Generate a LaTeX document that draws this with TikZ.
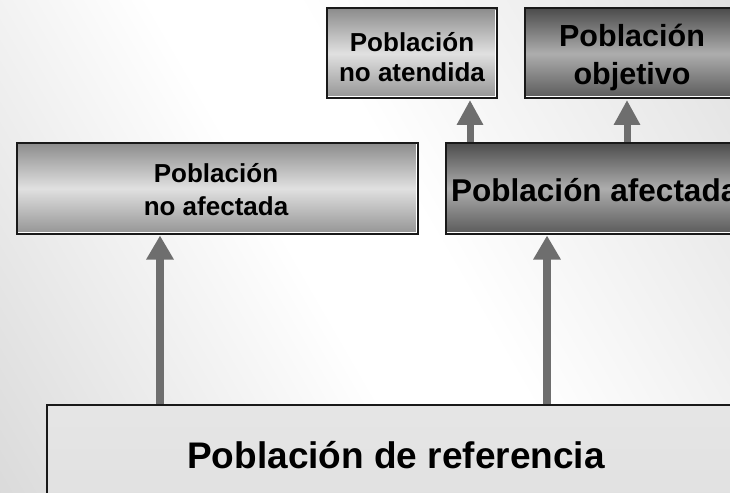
\documentclass[tikz,border=0pt]{standalone}
\usepackage{fontspec}
\setmainfont{Liberation Sans}
\usetikzlibrary{arrows.meta}
\definecolor{arrowgray}{HTML}{6E6E6E}
\pgfdeclareverticalshading{bgshade}{100bp}{color(0bp)=(black!22); color(45bp)=(white); color(55bp)=(white); color(100bp)=(black!18)}
\tikzset{
  box/.style={rectangle, draw=black!90, line width=2bp, inner sep=0pt, align=center,
    font=\bfseries, text=black!92},
  lightbox/.style={box, top color=black!45, bottom color=black!42, middle color=black!12},
  darkbox/.style={box, top color=black!70, bottom color=black!65, middle color=black!32},
  refbox/.style={box, top color=black!10, bottom color=black!12, middle color=black!11},
  upar/.style={draw=arrowgray, line width=8bp, -{Triangle[length=24bp,width=26bp]}, shorten >=0.5bp},
}
\newcommand{\hilite}[1]{\draw[white, line width=1.2bp] ([xshift=2.4bp,yshift=2.6bp]#1.south west) -- ([xshift=-2.6bp,yshift=2.6bp]#1.south east) -- ([xshift=-2.6bp,yshift=-2.4bp]#1.north east);}
\begin{document}
\begin{tikzpicture}[x=1bp,y=-1bp]
\clip (0,0) rectangle (730,493);
\shade[shading=bgshade, shading angle=-60] (0,0) rectangle (730,493);
% boxes
\node[lightbox, minimum width=170bp, minimum height=90bp] (natend) at (412,53.5) {};
\node[darkbox, minimum width=215bp, minimum height=90bp] (obj) at (632.5,53.5) {};
\node[lightbox, minimum width=401bp, minimum height=91bp] (nafect) at (217.5,188.5) {};
\node[darkbox, minimum width=300bp, minimum height=91bp] (afect) at (596,188.5) {};
\node[refbox, minimum width=700bp, minimum height=110bp] (ref) at (397,460) {};
\hilite{natend}\hilite{obj}\hilite{nafect}\hilite{afect}
% texts
\node[font=\bfseries\fontsize{26bp}{30bp}\selectfont, align=center, inner sep=0pt] (tnatend) at (412,57) {Población\\no atendida};
\node[font=\bfseries\fontsize{30.5bp}{38bp}\selectfont, align=center, inner sep=0pt] (tobj) at (632,57) {Población\\objetivo};
\node[font=\bfseries\fontsize{26bp}{33bp}\selectfont, align=center, inner sep=0pt] (tnafect) at (216,189.5) {Población\\no afectada};
\node[font=\bfseries\fontsize{31.5bp}{36bp}\selectfont, anchor=west, inner sep=0pt] (tafect) at (451,190) {Población afectada};
\node[font=\bfseries\fontsize{37bp}{44bp}\selectfont, inner sep=0pt] (tref) at (396,455) {Población de referencia};
% arrows
\coordinate (a1) at (160,0);
\coordinate (a2) at (547,0);
\coordinate (a3) at (470,0);
\coordinate (a4) at (627,0);
\draw[upar] (ref.north -| a1) -- (nafect.south -| a1);
\draw[upar] (ref.north -| a2) -- (afect.south -| a2);
\draw[upar, line width=7bp, -{Triangle[length=25bp,width=25bp]}] (afect.north -| a3) -- (natend.south -| a3);
\draw[upar, line width=7bp, -{Triangle[length=25bp,width=25bp]}] (afect.north -| a4) -- (obj.south -| a4);
\end{tikzpicture}
\end{document}
